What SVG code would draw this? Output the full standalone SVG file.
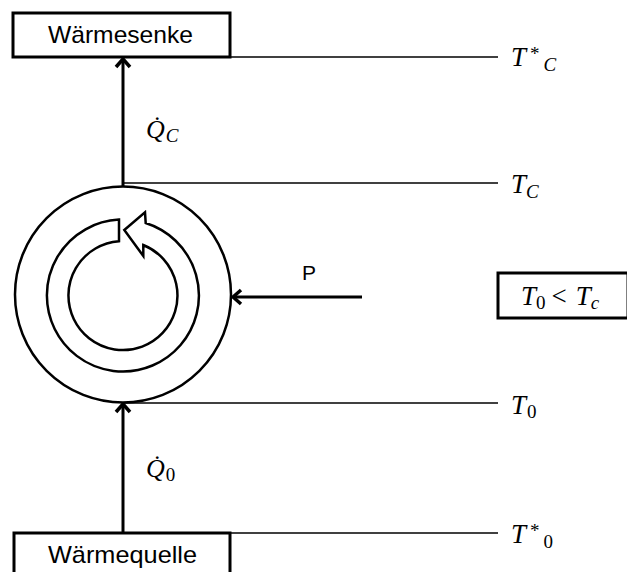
<svg xmlns="http://www.w3.org/2000/svg" width="627" height="572" viewBox="0 0 627 572">
<style>
.box{fill:#fff;stroke:#000;stroke-width:3}
.thin{stroke:#000;stroke-width:1.3;fill:none}
.thick{stroke:#000;stroke-width:3;fill:none}
.ring{stroke:#000;stroke-width:2.5;fill:none}
.lbl{font-family:"Liberation Sans",Arial,sans-serif;fill:#000}
.m{font-family:"Liberation Serif","Times New Roman",serif;font-style:italic;fill:#000}
.up{font-style:normal}
</style>
<defs>
<marker id="ah" viewBox="-10 -9 12 18" markerWidth="12" markerHeight="18" refX="0" refY="0" orient="auto" markerUnits="userSpaceOnUse">
<polyline points="-8,-7 0,0 -8,7" fill="none" stroke="#000" stroke-width="3.5"/>
</marker>
</defs>
<g id="connectors">
<line class="thin" x1="230" y1="57" x2="498" y2="57"/>
<line class="thin" x1="123" y1="183" x2="498" y2="183"/>
<line class="thin" x1="123" y1="403" x2="498" y2="403"/>
<line class="thin" x1="230" y1="533" x2="498" y2="533"/>
<line class="thick" x1="123" y1="186" x2="123" y2="59" marker-end="url(#ah)"/>
<line class="thick" x1="123" y1="532" x2="123" y2="404" marker-end="url(#ah)"/>
<line class="thick" x1="362" y1="297" x2="233" y2="297" marker-end="url(#ah)"/>
</g>
<g id="senke">
<rect class="box" x="13" y="13" width="217" height="44"/>
<text class="lbl" x="48" y="43" font-size="24" textLength="145" lengthAdjust="spacingAndGlyphs">Wärmesenke</text>
</g>
<g id="quelle">
<rect class="box" x="14" y="533" width="216" height="45"/>
<text class="lbl" x="48" y="563" font-size="24" textLength="149" lengthAdjust="spacingAndGlyphs">Wärmequelle</text>
</g>
<g id="machine">
<circle class="ring" cx="123" cy="294.5" r="108"/>
<path class="ring" d="M119,219.6 A76,76 0 1 0 145.7,223 L145,212.3 L124.3,230 L143.3,256 L143.3,245 A54.5,54.5 0 1 1 119,241.2 Z"/>
</g>
<g id="labels">
<text class="m" x="146" y="138" font-size="26">Q&#x307;<tspan font-size="19" dx="1" dy="4">C</tspan></text>
<text class="m" x="146" y="477" font-size="26">Q&#x307;<tspan class="up" font-size="19" dx="1" dy="4">0</tspan></text>
<text class="lbl" x="302" y="280" font-size="21">P</text>
<text class="m" x="511" y="66" font-size="27">T<tspan class="up" font-size="19" dx="4" dy="-6">*</tspan><tspan font-size="19" dx="4" dy="11">C</tspan></text>
<text class="m" x="511" y="193" font-size="27">T<tspan font-size="19" dx="0" dy="5">C</tspan></text>
<text class="m" x="511" y="414" font-size="27">T<tspan class="up" font-size="19" dx="1" dy="4">0</tspan></text>
<text class="m" x="511" y="543" font-size="27">T<tspan class="up" font-size="19" dx="4" dy="-6">*</tspan><tspan class="up" font-size="19" dx="4" dy="11">0</tspan></text>
</g>
<g id="cond">
<rect class="box" x="498" y="273" width="130" height="45"/>
<text class="m" x="521" y="305" font-size="27">T<tspan class="up" font-size="19" dy="4">0</tspan><tspan class="up" dx="6" dy="-4">&lt;</tspan><tspan dx="9">T</tspan><tspan font-size="19" dy="4">c</tspan></text>
</g>
</svg>
